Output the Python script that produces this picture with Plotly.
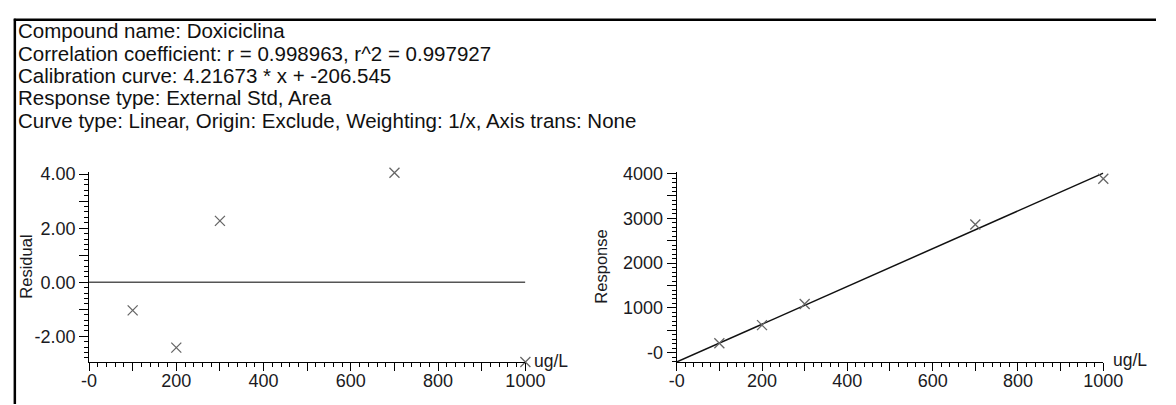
import plotly.graph_objects as go

W, H = 1176, 405

# Calibration data for Doxiciclina
concentration = [100, 200, 300, 700, 1000]          # ug/L
residual_pct = [-1.04, -2.42, 2.27, 4.05, -2.95]     # residual (%)
response = [211, 617, 1087, 2865, 3886]              # peak area response

slope = 4.21673
intercept = -206.545

header_lines = [
    "Compound name: Doxiciclina",
    "Correlation coefficient: r = 0.998963, r^2 = 0.997927",
    "Calibration curve: 4.21673 * x + -206.545",
    "Response type: External Std, Area",
    "Curve type: Linear, Origin: Exclude, Weighting: 1/x, Axis trans: None",
]

x_ticks = [0, 100, 200, 300, 400, 500, 600, 700, 800, 900, 1000]
x_ticktext = ["-0", "", "200", "", "400", "", "600", "", "800", "", "1000"]
res_ticks = [-2, -1, 0, 1, 2, 3, 4]
res_ticktext = ["-2.00", "", "0.00", "", "2.00", "", "4.00"]
resp_ticks = [0, 500, 1000, 1500, 2000, 2500, 3000, 3500, 4000]
resp_ticktext = ["-0", "", "1000", "", "2000", "", "3000", "", "4000"]

FONT = "Liberation Sans, Arial, Helvetica, sans-serif"
TXT = "#1a1a22"
TICK_FONT = dict(family=FONT, size=18, color=TXT)


def px_x(v):
    return v / W


def px_y(v):
    return 1 - v / H


fig = go.Figure()

# Residual panel
fig.add_trace(go.Scatter(
    x=[x_ticks[0], x_ticks[-1]], y=[0, 0], mode="lines",
    line=dict(color="#555555", width=1.5),
    xaxis="x", yaxis="y", hoverinfo="skip", showlegend=False,
))
fig.add_trace(go.Scatter(
    x=concentration, y=residual_pct, mode="markers",
    marker=dict(symbol="x-thin", size=10, line=dict(color="#666666", width=1.3)),
    xaxis="x", yaxis="y", cliponaxis=False, showlegend=False,
))

# Response panel with calibration line
line_x = [x_ticks[0], x_ticks[-1]]
line_y = [slope * v + intercept for v in line_x]
fig.add_trace(go.Scatter(
    x=line_x, y=line_y, mode="lines",
    line=dict(color="#111111", width=1.5),
    xaxis="x2", yaxis="y2", cliponaxis=False, hoverinfo="skip", showlegend=False,
))
fig.add_trace(go.Scatter(
    x=concentration, y=response, mode="markers",
    marker=dict(symbol="x-thin", size=10, line=dict(color="#666666", width=1.3)),
    xaxis="x2", yaxis="y2", cliponaxis=False, showlegend=False,
))


def axis(**kw):
    base = dict(
        showline=True, linecolor="black", linewidth=1,
        showgrid=False, zeroline=False,
        ticks="outside", tickcolor="black", tickwidth=1,
        tickfont=TICK_FONT, tickmode="array",
    )
    base.update(kw)
    return base


x_minor = dict(tickmode="linear", tick0=0, dtick=20, ticks="outside", ticklen=4,
               tickcolor="black", showgrid=False)

fig.update_layout(
    width=W, height=H,
    margin=dict(l=0, r=0, t=0, b=0),
    paper_bgcolor="white", plot_bgcolor="white",
    showlegend=False,
    xaxis=axis(domain=[px_x(83), px_x(530)], range=[0, 1000],
               tickvals=x_ticks, ticktext=x_ticktext, ticklen=8, anchor="y",
               ticklabelstandoff=-6, minor=x_minor),
    yaxis=axis(domain=[px_y(362), px_y(168)], range=[-2.95, 4.07],
               tickvals=res_ticks, ticktext=res_ticktext, ticklen=9, anchor="x",
               minor=dict(tickmode="linear", tick0=0, dtick=0.2, ticks="outside",
                          ticklen=4, tickcolor="black", showgrid=False)),
    xaxis2=axis(domain=[px_x(685), px_x(1122)], range=[0, 1000],
                tickvals=x_ticks, ticktext=x_ticktext, ticklen=8, anchor="y2",
                ticklabelstandoff=-6, minor=x_minor),
    yaxis2=axis(domain=[px_y(362), px_y(168)], range=[intercept, 4030],
                tickvals=resp_ticks, ticktext=resp_ticktext, ticklen=9, anchor="x2",
                minor=dict(tickmode="linear", tick0=0, dtick=100, ticks="outside",
                           ticklen=4, tickcolor="black", showgrid=False)),
)

annotations = []
for i, line in enumerate(header_lines):
    annotations.append(dict(
        text=line, xref="paper", yref="paper",
        x=px_x(8), y=px_y(23.5 + 22.8 * i), xanchor="left", yanchor="middle",
        showarrow=False, font=dict(family=FONT, size=20.5, color="#111111"),
    ))

# Axis titles and units
annotations += [
    dict(text="Residual", xref="paper", yref="paper", x=px_x(19), y=px_y(265),
         textangle=-90, xanchor="center", yanchor="middle", showarrow=False,
         font=dict(family=FONT, size=16.5, color=TXT)),
    dict(text="Response", xref="paper", yref="paper", x=px_x(608), y=px_y(265),
         textangle=-90, xanchor="center", yanchor="middle", showarrow=False,
         font=dict(family=FONT, size=16.5, color=TXT)),
    dict(text="ug/L", xref="paper", yref="paper", x=px_x(537), y=px_y(361),
         xanchor="left", yanchor="middle", showarrow=False,
         font=dict(family=FONT, size=17.5, color=TXT)),
    dict(text="ug/L", xref="paper", yref="paper", x=px_x(1130), y=px_y(360),
         xanchor="left", yanchor="middle", showarrow=False,
         font=dict(family=FONT, size=17.5, color=TXT)),
]
fig.update_layout(annotations=annotations)

# Frame around the report block
fig.update_layout(shapes=[
    dict(type="line", xref="paper", yref="paper",
         x0=px_x(6), x1=1, y0=px_y(12), y1=px_y(12),
         line=dict(color="black", width=2.5)),
    dict(type="line", xref="paper", yref="paper",
         x0=px_x(7), x1=px_x(7), y0=0, y1=px_y(11),
         line=dict(color="black", width=2.5)),
])

# Page without body margin so the figure sits at the window origin
fig.write_html(
    "out.html",
    post_script="document.body.style.margin='0';document.body.style.overflow='hidden';",
)
